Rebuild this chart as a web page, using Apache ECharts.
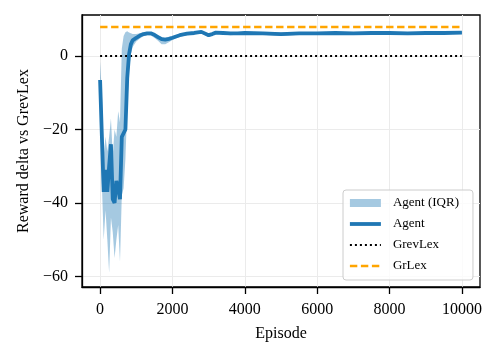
<!DOCTYPE html>
<html>
<head>
<meta charset="utf-8">
<script src="https://cdn.jsdelivr.net/npm/echarts@6/dist/echarts.min.js"></script>
<style>
  html, body { margin: 0; padding: 0; background: #fff; }
  #chart { width: 499px; height: 358px; }
</style>
</head>
<body>
<div id="chart"></div>
<script>
// episodes where the agent was evaluated
const episodes = [0, 50, 100, 150, 200, 250, 300, 350, 400, 450, 500, 550, 600, 650, 700, 750, 800, 850, 900,
  1000, 1100, 1200, 1300, 1400, 1500, 1600, 1700, 1800, 1900, 2000,
  2200, 2400, 2600, 2800, 3000, 3100, 3200, 3400, 3600, 3800, 4000,
  4500, 5000, 5500, 6000, 6500, 7000, 7500, 8000, 8500, 9000, 9500, 10000]

// median reward delta
const agentMedian = [-6.5, -22, -37, -31, -37, -30, -24, -39, -40, -34, -36, -39, -22, -21.5, -20, -6, 0.5, 3.2, 4.3,
  5.0, 5.6, 6.0, 6.2, 6.2, 5.8, 5.2, 4.6, 4.5, 4.7, 5.0,
  5.7, 6.1, 6.3, 6.6, 5.7, 6.0, 6.4, 6.3, 6.2, 6.2, 6.3,
  6.2, 6.0, 6.2, 6.2, 6.3, 6.2, 6.3, 6.3, 6.2, 6.3, 6.3, 6.4]

// interquartile range
const agentQ75 = [-1.5, -10, -27, -22, -26, -22, -17, -27, -20, -22, -15, -18, 2, 5.5, 6.5, 6.8, 6.4, 6.2, 6.0,
  6.0, 6.2, 6.4, 6.5, 6.5, 6.2, 5.7, 5.2, 5.0, 5.2, 5.4,
  6.0, 6.4, 6.6, 6.9, 6.1, 6.3, 6.7, 6.6, 6.5, 6.5, 6.6,
  6.5, 6.4, 6.5, 6.5, 6.6, 6.5, 6.6, 6.6, 6.5, 6.6, 6.6, 6.7]
const agentQ25 = [-9, -35, -50, -42, -50, -59, -44, -48, -55, -50, -46, -56, -38, -36, -28, -14, -4, 0.5, 2.5,
  4.0, 4.8, 5.4, 5.7, 5.6, 5.0, 4.2, 3.2, 3.2, 3.8, 4.4,
  5.3, 5.7, 5.9, 6.2, 5.2, 5.6, 6.0, 5.9, 5.7, 5.8, 5.9,
  5.8, 5.5, 5.8, 5.9, 5.9, 5.8, 5.9, 6.0, 5.9, 6.0, 6.0, 6.1]

// baselines
const baselineRange = [0, 10000]
const grevlexDelta = 0
const grlexDelta = 7.9

const xTicks = [0, 2000, 4000, 6000, 8000, 10000]
const yTicks = [-60, -40, -20, 0]

const fontFamily = '"Liberation Serif", "Times New Roman", serif'

const myChart = echarts.init(document.getElementById('chart'))

const pairs = (xs, ys) => xs.map((x, i) => [x, ys[i]])

// fill between q25 and q75, drawn once as a single polygon
function renderBand(params, api) {
  if (params.dataIndex !== 0) return null
  const points = []
  for (let i = 0; i < episodes.length; i++) {
    points.push(api.coord([episodes[i], agentQ75[i]]))
  }
  for (let i = episodes.length - 1; i >= 0; i--) {
    points.push(api.coord([episodes[i], agentQ25[i]]))
  }
  return {
    type: 'polygon',
    shape: { points: points },
    style: { fill: 'rgba(31,119,180,0.4)' }
  }
}

myChart.setOption({
  animation: false,
  textStyle: { fontFamily: fontFamily },
  grid: {
    left: 82,
    right: 19,
    top: 15,
    bottom: 71,
    show: true,
    borderColor: '#000',
    borderWidth: 1.3,
    backgroundColor: '#fff'
  },
  legend: {
    orient: 'vertical',
    left: 343,
    top: 190,
    padding: [6, 14, 7, 5],
    itemWidth: 31,
    itemHeight: 8,
    itemGap: 7,
    backgroundColor: 'rgba(255,255,255,0.8)',
    borderColor: '#cccccc',
    borderWidth: 1,
    borderRadius: 3,
    textStyle: {
      fontFamily: fontFamily,
      fontSize: 13,
      lineHeight: 14,
      color: '#000',
      padding: [0, 0, 0, 7]
    },
    data: [
      { name: 'Agent (IQR)', icon: 'rect', itemStyle: { color: '#a5c9e1' } },
      { name: 'Agent', itemStyle: { opacity: 0 }, lineStyle: { width: 3.8 } },
      { name: 'GrevLex', itemStyle: { opacity: 0 }, lineStyle: { width: 2 } },
      { name: 'GrLex', itemStyle: { opacity: 0 }, lineStyle: { width: 2.5 } }
    ]
  },
  xAxis: {
    type: 'value',
    min: -500,
    max: 10500,
    name: 'Episode',
    nameLocation: 'middle',
    nameGap: 39,
    nameTextStyle: { fontFamily: fontFamily, fontSize: 16, color: '#000' },
    axisLine: { show: true, onZero: false, lineStyle: { color: '#000', width: 1.3 } },
    axisTick: { show: true, length: 7, lineStyle: { color: '#000', width: 1.3 }, customValues: xTicks },
    axisLabel: {
      fontFamily: fontFamily,
      fontSize: 16,
      color: '#000',
      margin: 15,
      customValues: xTicks,
      formatter: v => String(v)
    },
    splitLine: { show: true, lineStyle: { color: '#ebebeb', width: 1 } }
  },
  yAxis: {
    type: 'value',
    min: -62.9,
    max: 11.2,
    name: 'Reward delta vs GrevLex',
    nameLocation: 'middle',
    nameGap: 50,
    nameTextStyle: { fontFamily: fontFamily, fontSize: 16, color: '#000' },
    axisLine: { show: true, onZero: false, lineStyle: { color: '#000', width: 1.3 } },
    axisTick: { show: true, length: 7, lineStyle: { color: '#000', width: 1.3 }, customValues: yTicks },
    axisLabel: {
      fontFamily: fontFamily,
      fontSize: 16,
      color: '#000',
      margin: 14,
      customValues: yTicks,
      formatter: v => String(v).replace('-', '\u2212')
    },
    splitLine: { show: true, lineStyle: { color: '#ebebeb', width: 1 } }
  },
  series: [
    {
      name: 'Agent (IQR)',
      type: 'custom',
      renderItem: renderBand,
      data: episodes.map((x, i) => [x, agentQ25[i], agentQ75[i]]),
      encode: { x: 0, y: [1, 2] },
      color: '#a5c9e1',
      silent: true,
      z: 2
    },
    {
      name: 'Agent',
      type: 'line',
      data: pairs(episodes, agentMedian),
      symbol: 'none',
      color: '#1f77b4',
      lineStyle: { width: 3.8, color: '#1f77b4' },
      z: 5
    },
    {
      name: 'GrevLex',
      type: 'line',
      data: baselineRange.map(x => [x, grevlexDelta]),
      symbol: 'none',
      color: '#000',
      lineStyle: { width: 2, color: '#000', type: [2, 3] },
      z: 4
    },
    {
      name: 'GrLex',
      type: 'line',
      data: baselineRange.map(x => [x, grlexDelta]),
      symbol: 'none',
      color: '#ffa500',
      lineStyle: { width: 2.5, color: '#ffa500', type: [7.4, 3.6] },
      z: 4
    }
  ]
})
</script>
</body>
</html>
